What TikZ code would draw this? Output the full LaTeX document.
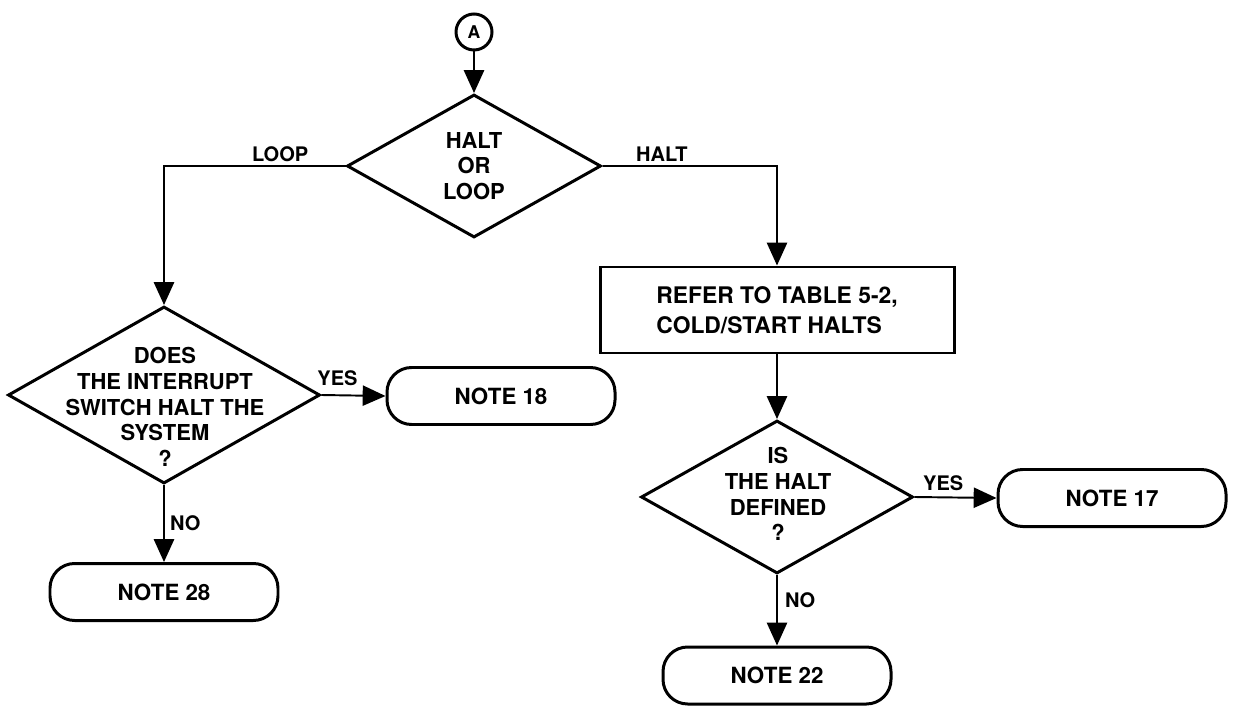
\documentclass[tikz,border=0pt]{standalone}
\usepackage{fontspec}
\setmainfont{TeX Gyre Heros}
\usepackage{tikz}
\usetikzlibrary{shapes.geometric, arrows.meta, positioning}

\tikzset{
    decision/.style={diamond, draw, line width=1.7pt, inner sep=0pt},
    dtext/.style={align=center, font=\fontsize{12.5}{14.7}\selectfont\bfseries},
    terminal/.style={rectangle, draw, line width=1.7pt, rounded corners=14pt,
        minimum width=4.56cm, minimum height=1.14cm,
        font=\fontsize{12.7}{15}\selectfont\bfseries},
    process/.style={rectangle, draw, line width=1.7pt, minimum width=7.08cm,
        minimum height=1.72cm, align=left,
        font=\fontsize{13}{17}\selectfont\bfseries},
    connector/.style={circle, draw, line width=1.7pt, minimum size=0.72cm,
        inner sep=0pt, font=\fontsize{10}{12}\selectfont\bfseries},
    flow/.style={line width=1.1pt, -{Triangle[length=13pt, width=11.5pt]}},
    lbl/.style={inner sep=1pt, font=\fontsize{11.4}{13}\selectfont\bfseries}
}

\begin{document}
\begin{tikzpicture}
    \useasboundingbox (0,0) rectangle (24.72,-14.12);

    % Entry point
    \node[connector] (a) at (9.48,-0.64) {A};

    % Decisions
    \node[decision, minimum width=5.08cm, minimum height=2.86cm] (d1) at (9.48,-3.32) {};
    \node[dtext] (d1text) at (d1) {HALT\\OR\\LOOP};
    \node[decision, minimum width=6.24cm, minimum height=3.54cm] (d2) at (3.28,-7.90) {};
    \node[dtext] (d2text) at (3.30,-8.14) {DOES\\THE INTERRUPT\\SWITCH HALT THE\\SYSTEM\\?};
    \node[decision, minimum width=5.44cm, minimum height=3.06cm] (d3) at (15.54,-9.94) {};
    \node[dtext] (d3text) at (15.56,-9.88) {IS\\THE HALT\\DEFINED\\?};

    % Process box
    \node[process] (refer) at (15.54,-6.20) {REFER TO TABLE 5-2,\\COLD/START HALTS};

    % Notes
    \node[terminal] (n18) at (10.02,-7.92) {NOTE 18};
    \node[terminal] (n28) at (3.28,-11.84) {NOTE 28};
    \node[terminal] (n17) at (22.24,-9.96) {NOTE 17};
    \node[terminal] (n22) at (15.54,-13.51) {NOTE 22};

    % Flow lines
    \draw[flow] (a) -- (d1.north);
    \draw[flow] (d1.west) -| node[lbl, above=1pt, pos=0.18] (loop) {LOOP} (d2.north);
    \draw[flow] (d1.east) -| node[lbl, above=1pt, pos=0.17] (halt) {HALT} (refer.north);
    \draw[flow] (refer.south) -- (d3.north);
    \draw[flow] (d2.east) -- node[lbl, above=4pt, pos=0.25] (yes1) {YES} (n18.west);
    \draw[flow] (d2.south) -- node[lbl, right=2pt, pos=0.49] (no1) {NO} (n28.north);
    \draw[flow] (d3.east) -- node[lbl, above=2pt, pos=0.35] (yes2) {YES} (n17.west);
    \draw[flow] (d3.south) -- node[lbl, right=3pt, pos=0.36] (no2) {NO} (n22.north);
\end{tikzpicture}
\end{document}
